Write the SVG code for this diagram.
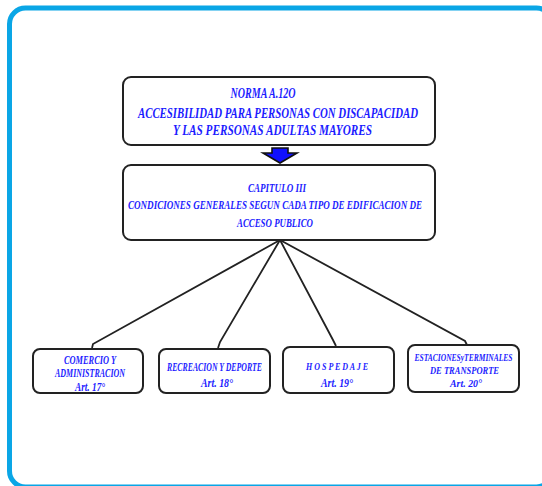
<svg xmlns="http://www.w3.org/2000/svg" width="542" height="486" viewBox="0 0 542 486">
<style>
.frame{fill:#fff;stroke:#0AA6E6;stroke-width:5}
.box{fill:#fff;stroke:#222;stroke-width:2}
.t{font-family:"Liberation Serif","DejaVu Serif",serif;font-weight:bold;font-style:italic;fill:#1c1cff;text-anchor:middle}
.con{fill:none;stroke:#222;stroke-width:1.8}
</style>
<rect width="542" height="486" fill="#fff"/>
<rect class="frame" x="9.5" y="8" width="543" height="479" rx="16"/>
<g id="connectors">
<path class="con" d="M280,240 L93,344 L92,348"/>
<path class="con" d="M280,240 L220,342 L218,348"/>
<path class="con" d="M280,240 L333,340 L336,346"/>
<path class="con" d="M280,240 L465,341 L467,345"/>
<path d="M272,148 H288 V153 H297 L280,163 L263,153 H272 Z" fill="#1010ff" stroke="#111" stroke-width="1.6" stroke-linejoin="miter"/>
</g>
<g id="norma">
<rect class="box" x="123" y="77" width="312" height="68" rx="8"/>
<text class="t" x="263" y="98" font-size="14" textLength="65" lengthAdjust="spacingAndGlyphs">NORMA  A.12O</text>
<text class="t" x="278" y="118" font-size="15" textLength="280" lengthAdjust="spacingAndGlyphs">ACCESIBILIDAD PARA PERSONAS CON DISCAPACIDAD</text>
<text class="t" x="272.5" y="135" font-size="15" textLength="199" lengthAdjust="spacingAndGlyphs">Y LAS PERSONAS ADULTAS MAYORES</text>
</g>
<g id="capitulo">
<rect class="box" x="123" y="165" width="312" height="75" rx="8"/>
<text class="t" x="277" y="192" font-size="12" textLength="58" lengthAdjust="spacingAndGlyphs">CAPITULO  III</text>
<text class="t" x="275" y="209" font-size="12" textLength="294" lengthAdjust="spacingAndGlyphs">CONDICIONES  GENERALES  SEGUN  CADA  TIPO  DE EDIFICACION DE</text>
<text class="t" x="275" y="227" font-size="12" textLength="76" lengthAdjust="spacingAndGlyphs">ACCESO  PUBLICO</text>
</g>
<g id="comercio">
<rect class="box" x="33" y="349" width="110" height="44" rx="7"/>
<text class="t" x="90" y="364" font-size="12" textLength="52" lengthAdjust="spacingAndGlyphs">COMERCIO  Y</text>
<text class="t" x="90" y="377" font-size="12" textLength="70" lengthAdjust="spacingAndGlyphs">ADMINISTRACION</text>
<text class="t" x="90" y="391" font-size="12" textLength="30" lengthAdjust="spacingAndGlyphs">Art.  17°</text>
</g>
<g id="recreacion">
<rect class="box" x="159" y="349" width="111" height="44" rx="7"/>
<text class="t" x="214.5" y="371" font-size="12" textLength="95" lengthAdjust="spacingAndGlyphs">RECREACION Y DEPORTE</text>
<text class="t" x="217" y="387" font-size="12" textLength="32" lengthAdjust="spacingAndGlyphs">Art.  18°</text>
</g>
<g id="hospedaje">
<rect class="box" x="283" y="347" width="111" height="46" rx="7"/>
<text class="t" x="337" y="370" font-size="11" textLength="62" lengthAdjust="spacingAndGlyphs">H O S P E D A J E</text>
<text class="t" x="337" y="387" font-size="12" textLength="32" lengthAdjust="spacingAndGlyphs">Art.  19°</text>
</g>
<g id="estaciones">
<rect class="box" x="408" y="345" width="111" height="47" rx="7"/>
<text class="t" x="463.5" y="361" font-size="10" textLength="98" lengthAdjust="spacingAndGlyphs">ESTACIONESyTERMINALES</text>
<text class="t" x="464.5" y="374" font-size="11" textLength="69" lengthAdjust="spacingAndGlyphs">DE  TRANSPORTE</text>
<text class="t" x="466" y="387" font-size="11" textLength="32" lengthAdjust="spacingAndGlyphs">Art.  20°</text>
</g>
</svg>
